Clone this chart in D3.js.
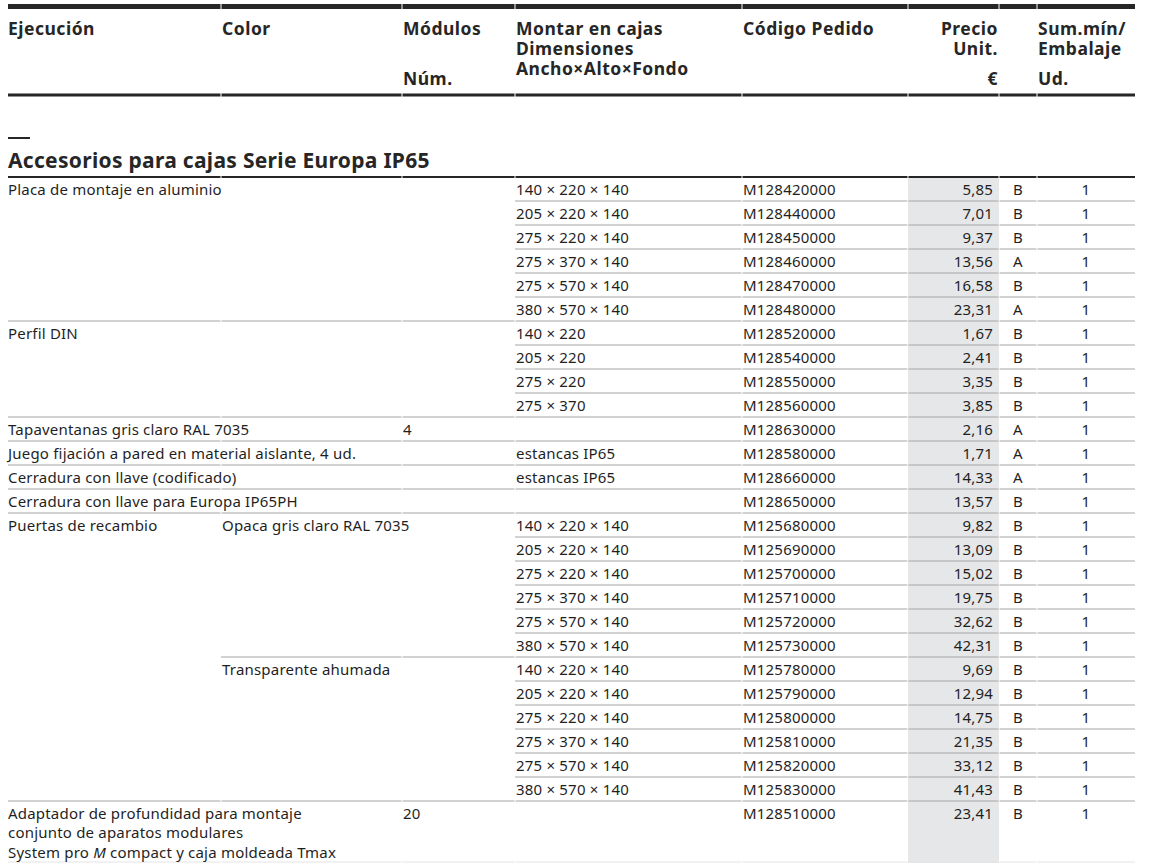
<!DOCTYPE html>
<html>
<head>
<meta charset="utf-8">
<script src="https://cdn.jsdelivr.net/npm/d3@7"></script>
<style>
  body { margin: 0; background: #fff; }
  text { font-family: "Noto Sans", "Open Sans", sans-serif; fill: #1f1f1f; }
  .head text { font-weight: 700; font-size: 17.5px; fill: #262626; letter-spacing: 0.5px; }
  .body text { font-size: 15px; letter-spacing: 0.2px; }
</style>
</head>
<body>
<script>
// Table data, one entry per row
var ejecucion = [
  "Placa de montaje en aluminio", "", "", "", "", "",
  "Perfil DIN", "", "", "",
  "Tapaventanas gris claro RAL 7035",
  "Juego fijación a pared en material aislante, 4 ud.",
  "Cerradura con llave (codificado)",
  "Cerradura con llave para Europa IP65PH",
  "Puertas de recambio", "", "", "", "", "", "", "", "", "", "", "",
  "Adaptador de profundidad para montaje|conjunto de aparatos modulares|System pro *M* compact y caja moldeada Tmax"
];
var colores = [
  "", "", "", "", "", "", "", "", "", "", "", "", "", "",
  "Opaca gris claro RAL 7035", "", "", "", "", "",
  "Transparente ahumada", "", "", "", "", "", ""
];
var modulos = ["", "", "", "", "", "", "", "", "", "", "4", "", "", "", "", "", "", "", "", "", "", "", "", "", "", "", "20"];
var dimensiones = [
  "140 × 220 × 140", "205 × 220 × 140", "275 × 220 × 140", "275 × 370 × 140", "275 × 570 × 140", "380 × 570 × 140",
  "140 × 220", "205 × 220", "275 × 220", "275 × 370",
  "", "estancas IP65", "estancas IP65", "",
  "140 × 220 × 140", "205 × 220 × 140", "275 × 220 × 140", "275 × 370 × 140", "275 × 570 × 140", "380 × 570 × 140",
  "140 × 220 × 140", "205 × 220 × 140", "275 × 220 × 140", "275 × 370 × 140", "275 × 570 × 140", "380 × 570 × 140",
  ""
];
var codigos = [
  "M128420000", "M128440000", "M128450000", "M128460000", "M128470000", "M128480000",
  "M128520000", "M128540000", "M128550000", "M128560000",
  "M128630000", "M128580000", "M128660000", "M128650000",
  "M125680000", "M125690000", "M125700000", "M125710000", "M125720000", "M125730000",
  "M125780000", "M125790000", "M125800000", "M125810000", "M125820000", "M125830000",
  "M128510000"
];
var precios = [
  5.85, 7.01, 9.37, 13.56, 16.58, 23.31,
  1.67, 2.41, 3.35, 3.85,
  2.16, 1.71, 14.33, 13.57,
  9.82, 13.09, 15.02, 19.75, 32.62, 42.31,
  9.69, 12.94, 14.75, 21.35, 33.12, 41.43,
  23.41
];
var clases = [
  "B", "B", "B", "A", "B", "A",
  "B", "B", "B", "B",
  "A", "A", "A", "B",
  "B", "B", "B", "B", "B", "B",
  "B", "B", "B", "B", "B", "B",
  "B"
];
var cantidades = [1, 1, 1, 1, 1, 1, 1, 1, 1, 1, 1, 1, 1, 1, 1, 1, 1, 1, 1, 1, 1, 1, 1, 1, 1, 1, 1];

var titulo = "Accesorios para cajas Serie Europa IP65";
// header lines per column (col index, lines; slot 3 = bottom line)
var cabeceras = [
  [0, ["Ejecución"]],
  [1, ["Color"]],
  [2, ["Módulos", "", "", "Núm."]],
  [3, ["Montar en cajas", "Dimensiones", "Ancho×Alto×Fondo"]],
  [4, ["Código Pedido"]],
  [5, ["Precio", "Unit.", "", "€"]],
  [7, ["Sum.mín/", "Embalaje", "", "Ud."]]
];

// Layout
var width = 1149, height = 863;
var cols = [8, 221, 402, 515, 742, 908, 999, 1037, 1135];
var rowH = 24, top0 = 177;
var n = codigos.length;

var y = d3.scaleLinear().domain([0, n - 1]).range([top0, top0 + (n - 1) * rowH]);
var headY = d3.scaleOrdinal().domain([0, 1, 2, 3]).range([35, 55, 75, 85]);
var fmt = function(v) { return d3.format(".2f")(v).replace(".", ","); };

var svg = d3.select("body").append("svg")
  .attr("width", width)
  .attr("height", height);

// gray price column
svg.append("rect")
  .attr("x", cols[5])
  .attr("y", top0)
  .attr("width", cols[6] - cols[5])
  .attr("height", height - top0)
  .attr("fill", "#e6e7e9");

// horizontal rule split into column pieces with a tiny gap
function rule(yPos, fromCol, color, w) {
  var segs = d3.range(fromCol, cols.length - 1);
  svg.append("g").selectAll("line")
    .data(segs)
    .join("line")
    .attr("x1", function(k) { return k === fromCol ? cols[k] : cols[k] + 0.5; })
    .attr("x2", function(k) { return k === cols.length - 2 ? cols[k + 1] : cols[k + 1] - 0.5; })
    .attr("y1", yPos)
    .attr("y2", yPos)
    .attr("stroke", color)
    .attr("stroke-width", w);
}

rule(6.5, 0, "#262626", 5);
rule(95, 0, "#262626", 3);
rule(top0, 0, "#262626", 2);

// header
var head = svg.append("g").attr("class", "head");
cabeceras.forEach(function(h) {
  var c = h[0], right = c === 5;
  head.selectAll(null)
    .data(h[1].map(function(t, i) { return {t: t, i: i}; }).filter(function(d) { return d.t; }))
    .join("text")
    .attr("x", right ? cols[6] - 1 : cols[c] + (c === 0 ? 0 : 1))
    .attr("y", function(d) { return headY(d.i); })
    .attr("text-anchor", right ? "end" : "start")
    .text(function(d) { return d.t; });
});

// title
svg.append("line")
  .attr("x1", cols[0]).attr("x2", cols[0] + 22)
  .attr("y1", 138).attr("y2", 138)
  .attr("stroke", "#262626").attr("stroke-width", 2);
svg.append("text")
  .attr("x", cols[0])
  .attr("y", 168)
  .style("font-weight", 700)
  .style("font-size", "21px")
  .style("letter-spacing", "0.3px")
  .style("fill", "#262626")
  .text(titulo);

// row separators: full width for a new item, from Color for a new colour, else from Dimensiones
d3.range(1, n).forEach(function(i) {
  var from = ejecucion[i] ? 0 : (colores[i] ? 1 : 3);
  rule(y(i), from, "#a6a6a6", 1.2);
});
rule(height - 1, 0, "#e4e4e4", 1);

// body cells
var body = svg.append("g").attr("class", "body");
var rows = body.selectAll("g")
  .data(d3.range(n))
  .join("g")
  .attr("transform", function(i) { return "translate(0," + (y(i) + 17.5) + ")"; });

rows.append("text")
  .attr("x", cols[0])
  .each(function(i) {
    var t = d3.select(this);
    ejecucion[i].split("|").forEach(function(line, j) {
      line.split("*").forEach(function(p, k) {
        if (!p) return;
        var ts = t.append("tspan").text(p);
        if (k === 0) ts.attr("x", cols[0]).attr("dy", j === 0 ? 0 : 19.5);
        if (k === 1) ts.style("font-style", "italic");
      });
    });
  });
rows.append("text").attr("x", cols[1] + 1).text(function(i) { return colores[i]; });
rows.append("text").attr("x", cols[2] + 1).text(function(i) { return modulos[i]; });
rows.append("text").attr("x", cols[3] + 1).text(function(i) { return dimensiones[i]; });
rows.append("text").attr("x", cols[4] + 1).text(function(i) { return codigos[i]; });
rows.append("text").attr("x", cols[6] - 6).attr("text-anchor", "end").text(function(i) { return fmt(precios[i]); });
rows.append("text").attr("x", cols[6] + 14).text(function(i) { return clases[i]; });
rows.append("text").attr("x", (cols[7] + cols[8]) / 2).attr("text-anchor", "middle").text(function(i) { return cantidades[i]; });
</script>
</body>
</html>
